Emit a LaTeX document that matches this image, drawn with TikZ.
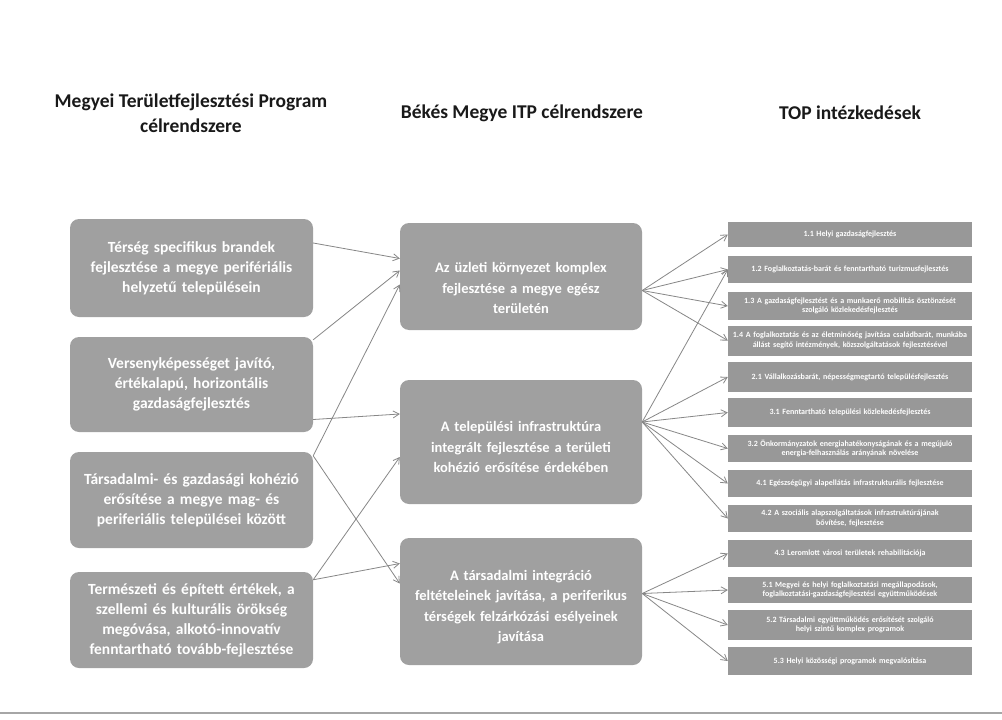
\documentclass[tikz,border=0pt]{standalone}
\usepackage{fontspec}
\setmainfont{Carlito}
\usetikzlibrary{arrows.meta,calc}
\definecolor{boxgray}{RGB}{160,160,160}
\definecolor{topgray}{RGB}{152,152,152}
\definecolor{arrgray}{RGB}{135,135,135}
\definecolor{titlecol}{RGB}{25,25,25}
\begin{document}
\begin{tikzpicture}[x=1pt,y=-1pt,
  title/.style={text=titlecol, font=\fontsize{19.5}{25}\selectfont\bfseries, align=center, inner sep=0pt},
  lbox/.style={fill=boxgray, rounded corners=9pt, text=white, font=\fontsize{15.5}{20}\selectfont\bfseries, align=center, minimum width=243pt, text width=234pt, inner sep=0pt},
  mbox/.style={fill=boxgray, rounded corners=9pt, text=white, font=\fontsize{14.5}{20.5}\selectfont\bfseries, align=center, minimum width=242pt, text width=234pt, inner sep=0pt},
  mtext/.style={text=white, font=\fontsize{14.5}{20.5}\selectfont\bfseries, align=center, text width=234pt, inner sep=0pt},
  tbox/.style={fill=topgray, text=white, font=\fontsize{8}{9.5}\selectfont\bfseries, align=center, minimum width=244pt, text width=236pt, inner sep=0pt},
  conn/.style={draw=arrgray, line width=0.8pt, -{Straight Barb[length=6pt,width=7pt]}}
]
\useasboundingbox (0,0) rectangle (1002,720);
\fill[white] (0,0) rectangle (1002,720);

% titles
\node[title] (h1) at (191,113) {Megyei Területfejlesztési Program\\célrendszere};
\node[title] (h2) at (522,113) {Békés Megye ITP célrendszere};
\node[title] (h3) at (850,113) {TOP intézkedések};

% left column
\node[lbox, minimum height=98pt] (L1) at (191.5,268) {Térség specifikus brandek\\fejlesztése a megye perifériális\\helyzetű településein};
\node[lbox, minimum height=95pt] (L2) at (191.5,384.5) {Versenyképességet javító,\\értékalapú, horizontális\\gazdaságfejlesztés};
\node[lbox, minimum height=96pt] (L3) at (191.5,500) {Társadalmi- és gazdasági kohézió\\erősítése a megye mag- és\\periferiális települései között};
\node[lbox, minimum height=96pt] (L4) at (191.5,620) {Természeti és épített értékek, a\\szellemi és kulturális örökség\\megóvása, alkotó-innovatív\\fenntartható tovább-fejlesztése};

% middle column
\node[mbox, minimum height=107pt] (M1) at (521,276.5) {};
\node[mtext] (M1t) at (521,288) {Az üzleti környezet komplex\\fejlesztése a megye egész\\területén};
\node[mbox, minimum height=124pt] (M2) at (521,442) {};
\node[mtext] (M2t) at (521,447) {A települési infrastruktúra\\integrált fejlesztése a területi\\kohézió erősítése érdekében};
\node[mbox, minimum height=127pt] (M3) at (521,601.5) {};
\node[mtext] (M3t) at (521,607) {A társadalmi integráció\\feltételeinek javítása, a periferikus\\térségek felzárkózási esélyeinek\\javítása};

% TOP column
\node[tbox, minimum height=25pt] (T1) at (850,234.5) {1.1 Helyi gazdaságfejlesztés};
\node[tbox, minimum height=27pt] (T2) at (850,269.5) {1.2 Foglalkoztatás-barát és fenntartható turizmusfejlesztés};
\node[tbox, minimum height=28pt] (T3) at (850,306) {1.3 A gazdaságfejlesztést és a munkaerő mobilitás ösztönzését\\szolgáló közlekedésfejlesztés};
\node[tbox, minimum height=30pt] (T4) at (850,340.5) {1.4 A foglalkoztatás és az életminőség javítása családbarát, munkába\\állást segítő intézmények, közszolgáltatások fejlesztésével};
\node[tbox, minimum height=30pt] (T5) at (850,377) {2.1 Vállalkozásbarát, népességmegtartó településfejlesztés};
\node[tbox, minimum height=29pt] (T6) at (850,412.5) {3.1 Fenntartható települési közlekedésfejlesztés};
\node[tbox, minimum height=27pt] (T7) at (850,448.5) {3.2 Önkormányzatok energiahatékonyságának és a megújuló\\energia-felhasználás arányának növelése};
\node[tbox, minimum height=27pt] (T8) at (850,483.5) {4.1 Egészségügyi alapellátás infrastrukturális fejlesztése};
\node[tbox, minimum height=27pt] (T9) at (850,518.5) {4.2 A szociális alapszolgáltatások infrastruktúrájának\\bővítése, fejlesztése};
\node[tbox, minimum height=27pt] (T10) at (850,553.5) {4.3 Leromlott városi területek rehabilitációja};
\node[tbox, minimum height=26pt] (T11) at (850,590) {5.1 Megyei és helyi foglalkoztatási megállapodások,\\foglalkoztatási-gazdaságfejlesztési együttműködések};
\node[tbox, minimum height=30pt] (T12) at (850,625) {5.2 Társadalmi együttműködés erősítését szolgáló\\helyi szintű komplex programok};
\node[tbox, minimum height=28pt] (T13) at (850,661) {5.3 Helyi közösségi programok megvalósítása};

% left -> middle connectors
\draw[conn] ($(L1.east)+(0,-25)$) -- ($(M1.west)+(0,-18)$);
\draw[conn] ($(L2.north east)+(0,3)$) -- ($(M1.west)+(0,-6)$);
\draw[conn] ($(L2.east)+(0,35)$) -- ($(M2.west)+(0,-28)$);
\draw[conn] ($(L3.north east)+(0,4)$) -- ($(M1.west)+(0,8)$);
\draw[conn] ($(L3.north east)+(0,4)$) -- ($(M3.west)+(0,-18)$);
\draw[conn] ($(L4.north east)+(0,8)$) -- ($(M2.west)+(0,15)$);
\draw[conn] ($(L4.north east)+(0,8)$) -- ($(M3.west)+(0,-38)$);

% middle -> TOP connectors
\coordinate (m1o) at ($(M1.east)+(0,14)$);
\coordinate (m2o) at ($(M2.east)+(0,-20)$);
\coordinate (m3o) at ($(M3.east)+(0,-8)$);
\foreach \t in {T1,T2,T3,T4} \draw[conn] (m1o) -- (\t.west);
\foreach \t in {T2,T5,T6,T7,T8,T9} \draw[conn] (m2o) -- (\t.west);
\foreach \t in {T10,T11,T12,T13} \draw[conn] (m3o) -- (\t.west);

% scan edge at the bottom
\coordinate (b1) at (0,713);
\coordinate (b2) at (1002,713);
\draw[gray!70, line width=2.5pt] (b1) -- (b2);
\end{tikzpicture}
\end{document}
